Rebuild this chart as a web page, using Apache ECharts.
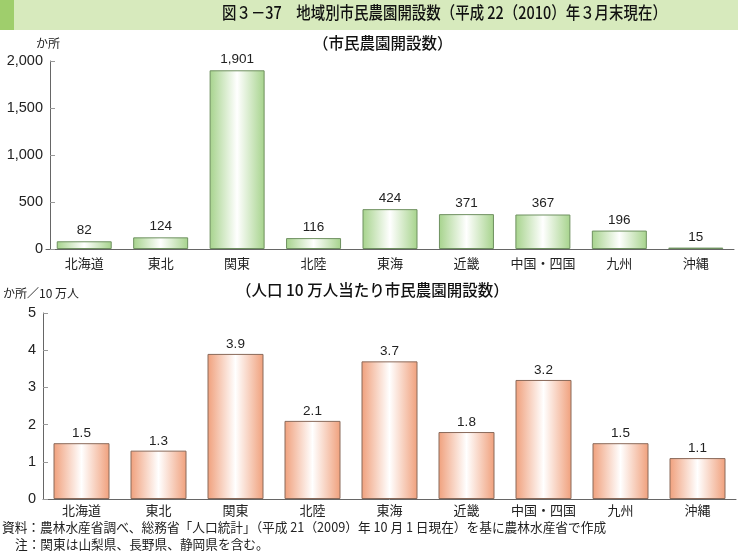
<!DOCTYPE html>
<html><head><meta charset="utf-8">
<script src="https://cdn.jsdelivr.net/npm/echarts@6/dist/echarts.min.js"></script>
<style>html,body{margin:0;padding:0;background:#fff}#c{width:738px;height:556px}</style>
</head><body><div id="c"></div>
<script>
const categories = ['北海道','東北','関東','北陸','東海','近畿','中国・四国','九州','沖縄'];
const gardenCounts = [82,124,1901,116,424,371,367,196,15];
const perCapita = [1.5,1.3,3.9,2.1,3.7,1.8,3.2,1.5,1.1];
const topTicks = [0,500,1000,1500,2000];
const bottomTicks = [0,1,2,3,4,5];

const FONT = '"Liberation Sans", "Noto Sans CJK JP", sans-serif';
const chart = echarts.init(document.getElementById('c'), null, {renderer:'canvas'});

function grad(edge){
  return new echarts.graphic.LinearGradient(0,0,1,0,[
    {offset:0,color:edge},{offset:0.5,color:'#ffffff'},{offset:1,color:edge}]);
}
function yAxis(idx, ticks, fmt, offset){
  return {type:'value', gridIndex:idx, min:ticks[0], max:ticks[ticks.length-1],
    interval:ticks[1]-ticks[0], offset:offset,
    axisLine:{show:true, lineStyle:{color:'#666', width:1}},
    axisTick:{show:true, inside:true, length:5, lineStyle:{color:'#999'}},
    splitLine:{show:false},
    axisLabel:{margin:7, formatter:fmt, color:'#222', fontSize:14.5, fontFamily:FONT}};
}
function xAxis(idx, margin){
  return {type:'category', gridIndex:idx, data:categories,
    axisLine:{lineStyle:{color:'#666', width:1}}, axisTick:{show:false},
    axisLabel:{margin:margin, interval:0, color:'#222', fontSize:13, fontFamily:'"Noto Sans CJK JP", sans-serif'}};
}
chart.setOption({
  animation:false,
  graphic:[
    {type:'rect', shape:{x:0,y:0,width:738,height:30}, style:{fill:'#d7eabd'}},
    {type:'rect', shape:{x:0,y:0,width:14,height:30}, style:{fill:'#9fce6c'}},
    {type:'text', x:222, y:4, scaleX:0.85, style:{text:'図３－37　地域別市民農園開設数（平成 22（2010）年３月末現在）', fill:'#111', font:'500 17px "Noto Sans CJK JP", sans-serif'}},
    {type:'text', left:36, top:37, style:{text:'か所', fill:'#222', font:'12px "Noto Sans CJK JP", sans-serif'}},
    {type:'text', left:313, top:35, style:{text:'（市民農園開設数）', fill:'#111', font:'500 15.5px "Noto Sans CJK JP", sans-serif'}},
    {type:'text', left:3, top:287, style:{text:'か所／10 万人', fill:'#222', font:'12px "Noto Sans CJK JP", sans-serif'}},
    {type:'text', left:236, top:282, style:{text:'（人口 10 万人当たり市民農園開設数）', fill:'#111', font:'500 15.5px "Noto Sans CJK JP", sans-serif'}},
    {type:'text', left:2, top:521, style:{text:'資料：農林水産省調べ、総務省「人口統計」（平成 21（2009）年 10 月 1 日現在）を基に農林水産省で作成', fill:'#222', font:'12.7px "Noto Sans CJK JP", sans-serif'}},
    {type:'text', left:15, top:538, style:{text:'注：関東は山梨県、長野県、静岡県を含む。', fill:'#222', font:'12.7px "Noto Sans CJK JP", sans-serif'}}
  ],
  grid:[
    {left:46, right:4, top:61, bottom:307},
    {left:43, right:2, top:313, bottom:57}
  ],
  xAxis:[xAxis(0, 8), xAxis(1, 5)],
  yAxis:[yAxis(0, topTicks, v=>v.toLocaleString('en-US'), -4), yAxis(1, bottomTicks, v=>v, 0)],
  series:[
    {type:'bar', xAxisIndex:0, yAxisIndex:0, data:gardenCounts, barWidth:55,
     itemStyle:{color:grad('#a6d38c'), borderColor:'#6f9160', borderWidth:1},
     label:{show:true, position:'top', distance:4, color:'#222', fontSize:13.5, fontFamily:FONT,
       formatter:p=>p.value.toLocaleString('en-US')}},
    {type:'bar', xAxisIndex:1, yAxisIndex:1, data:perCapita, barWidth:56,
     itemStyle:{color:grad('#f0a07c'), borderColor:'#8a6a5a', borderWidth:1},
     label:{show:true, position:'top', distance:3, color:'#222', fontSize:13.5, fontFamily:FONT,
       formatter:p=>p.value.toFixed(1)}}
  ]
});
</script></body></html>
